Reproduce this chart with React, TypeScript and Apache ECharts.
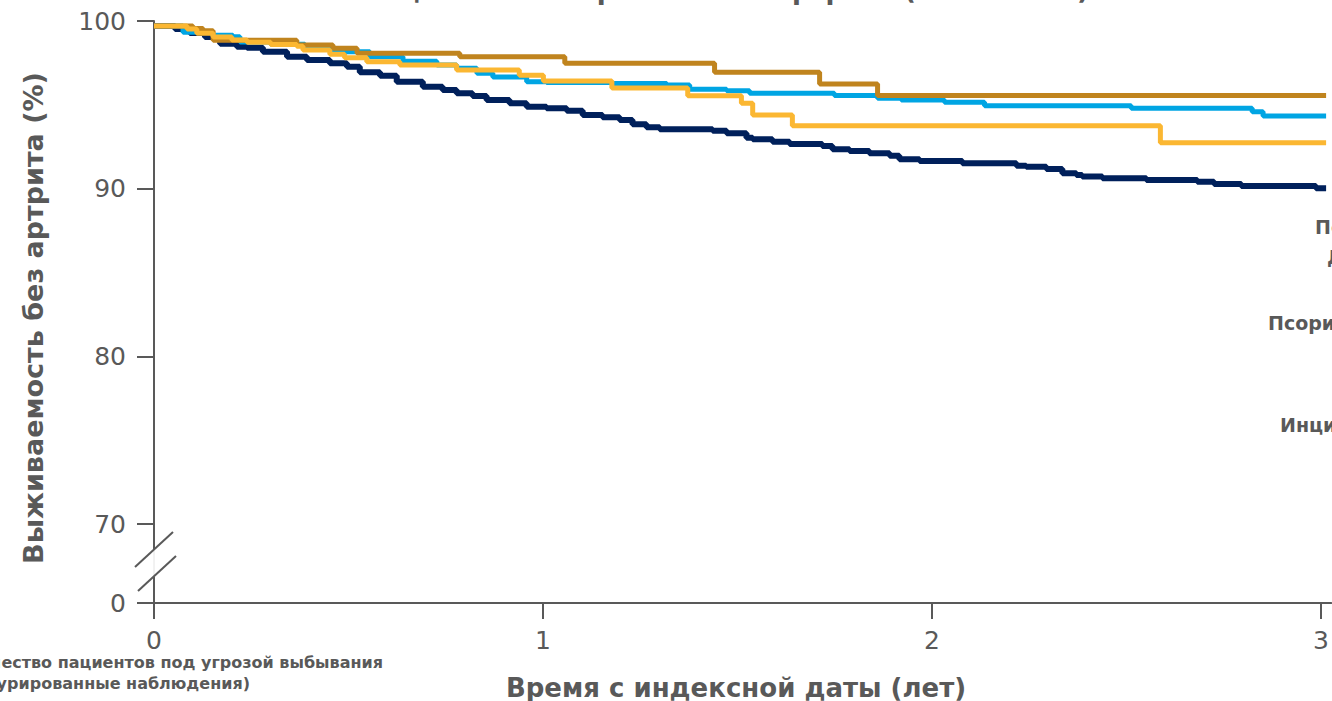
import React, { useEffect, useRef } from "react";
import * as echarts from "echarts";

// ---- data (years since index date, % arthritis-free survival) ----
const navyData: [number, number][] = [
  [0, 99.7], [0.054, 99.52], [0.092, 99.28], [0.131, 99.05], [0.17, 98.65], [0.213, 98.47],
  [0.239, 98.4], [0.28, 98.17], [0.342, 97.87], [0.393, 97.67], [0.452, 97.48], [0.496, 97.27],
  [0.529, 96.94], [0.581, 96.74], [0.624, 96.38], [0.691, 96.08], [0.742, 95.89], [0.778, 95.69],
  [0.819, 95.53], [0.855, 95.29], [0.914, 95.09], [0.958, 94.89], [1.009, 94.79], [1.061, 94.65],
  [1.102, 94.39], [1.153, 94.26], [1.197, 94.1], [1.23, 93.84], [1.266, 93.66], [1.3, 93.54],
  [1.436, 93.46], [1.472, 93.3], [1.523, 93.04], [1.539, 92.95], [1.59, 92.8], [1.634, 92.67],
  [1.718, 92.55], [1.744, 92.35], [1.788, 92.25], [1.839, 92.11], [1.891, 91.97], [1.916, 91.75],
  [1.968, 91.65], [2.078, 91.51], [2.217, 91.37], [2.242, 91.31], [2.294, 91.17], [2.335, 90.92],
  [2.371, 90.82], [2.386, 90.72], [2.438, 90.62], [2.551, 90.52], [2.682, 90.42], [2.725, 90.28],
  [2.795, 90.16], [2.987, 90.02], [3.013, 90.02],
];

const blueData: [number, number][] = [
  [0, 99.7], [0.0745, 99.33], [0.15, 99.15], [0.203, 99.06], [0.221, 98.75], [0.3, 98.62],
  [0.388, 98.47], [0.457, 98.17], [0.555, 97.87], [0.64, 97.6], [0.727, 97.38], [0.778, 97.18],
  [0.83, 96.88], [0.871, 96.66], [0.958, 96.38], [1.009, 96.33], [1.179, 96.28], [1.318, 96.18],
  [1.377, 95.93], [1.472, 95.84], [1.531, 95.69], [1.749, 95.55], [1.86, 95.39], [1.921, 95.29],
  [2.032, 95.15], [2.135, 94.95], [2.512, 94.79], [2.823, 94.59], [2.851, 94.34], [3.013, 94.34],
];

const brownData: [number, number][] = [
  [0, 99.7], [0.1, 99.56], [0.126, 99.42], [0.152, 98.85], [0.367, 98.57], [0.46, 98.37],
  [0.522, 98.08], [0.786, 97.87], [1.056, 97.48], [1.441, 96.94], [1.711, 96.24], [1.86, 95.55],
  [3.013, 95.55],
];

const goldData: [number, number][] = [
  [0, 99.7], [0.085, 99.52], [0.11, 99.27], [0.152, 99.05], [0.2, 98.87], [0.239, 98.73],
  [0.3, 98.6], [0.367, 98.5], [0.383, 98.27], [0.452, 98.01], [0.49, 97.81], [0.547, 97.57],
  [0.632, 97.38], [0.778, 97.08], [0.939, 96.76], [1.001, 96.42], [1.177, 96.0], [1.372, 95.54],
  [1.51, 95.09], [1.539, 94.39], [1.641, 93.75], [2.587, 92.74], [3.013, 92.74],
];

const xTicks = [0, 1, 2, 3];
const yBreakMin = 65.29; // value shown as "0" below the axis break
const yTicks = [yBreakMin, 70, 80, 90, 100];

const titleText = "Пациенты с псориазом без артрита (N = 12 345)";
const xTitle = "Время с индексной даты (лет)";
const yTitle = "Выживаемость без артрита (%)";
const riskLine1 = "Количество пациентов под угрозой выбывания";
const riskLine2 = "(цензурированные наблюдения)";
const sideLabels = ["ПсО", "Д", "Псориаз", "Инцидентный"];

const GRAY = "#595959";
const FONT = "'DejaVu Sans', Verdana, sans-serif";

export default function App() {
  const ref = useRef<HTMLDivElement>(null);
  useEffect(() => {
    if (!ref.current) return;
    const chart = echarts.init(ref.current, null, { renderer: "svg" });
    const mk = (name: string, data: [number, number][], color: string, w: number) => ({
      name,
      type: "line",
      step: "end",
      data,
      showSymbol: false,
      symbol: "none",
      lineStyle: { color, width: w },
      itemStyle: { color },
    });
    const label = (text: string, x: number, y: number, size: number, align: string, extra: any = {}) => ({
      type: "text",
      x,
      y,
      ...extra,
      style: { text, font: `bold ${size}px ${FONT}`, fill: GRAY, align, verticalAlign: extra.va || "middle" },
    });
    chart.setOption({
      animation: false,
      textStyle: { fontFamily: FONT },
      grid: { left: 154, top: 21, right: 0, bottom: 98 },
      xAxis: {
        type: "value",
        min: 0,
        max: 3.026,
        splitLine: { show: false },
        axisLine: { show: true, lineStyle: { color: GRAY, width: 2 } },
        axisTick: { show: true, customValues: xTicks, length: 16, lineStyle: { color: GRAY, width: 2 } },
        axisLabel: { customValues: xTicks, fontSize: 25, color: GRAY, margin: 25, fontFamily: FONT },
      },
      yAxis: {
        type: "value",
        min: yBreakMin,
        max: 100,
        splitLine: { show: false },
        axisLine: { show: true, lineStyle: { color: GRAY, width: 2 } },
        axisTick: { show: true, customValues: yTicks, length: 17, lineStyle: { color: GRAY, width: 2 } },
        axisLabel: {
          customValues: yTicks,
          fontSize: 25,
          color: GRAY,
          margin: 28,
          fontFamily: FONT,
          formatter: (v: number) => (v < 66 ? "0" : String(Math.round(v))),
        },
      },
      series: [
        mk("Инцидентный", navyData, "#00205B", 6),
        mk("Псориаз", blueData, "#00A5E3", 5),
        mk("ПсО", brownData, "#C0841E", 5),
        mk("Д", goldData, "#FBB732", 5),
      ],
      graphic: [
        label(titleText, 725, 3, 26, "center", { va: "bottom" }),
        label(xTitle, 736, 688, 26, "center"),
        label(yTitle, 33, 318, 27, "center", { rotation: Math.PI / 2 }),
        label(riskLine1, 383, 662, 16, "right"),
        label(riskLine2, 250, 683, 16, "right"),
        label(sideLabels[0], 1315, 227, 19, "left"),
        label(sideLabels[1], 1327, 257, 19, "left"),
        label(sideLabels[2], 1268, 323, 19, "left"),
        label(sideLabels[3], 1280, 425, 19, "left"),
        // axis break
        { type: "rect", z: 100, shape: { x: 149, y: 549, width: 10, height: 28 }, style: { fill: "#ffffff" } },
        { type: "line", z: 101, shape: { x1: 154, y1: 549, x2: 154, y2: 577 }, style: { stroke: "#e4e4e4", lineWidth: 1 } },
        { type: "line", z: 102, shape: { x1: 135, y1: 567, x2: 173, y2: 532 }, style: { stroke: GRAY, lineWidth: 2 } },
        { type: "line", z: 102, shape: { x1: 138, y1: 591, x2: 176, y2: 556 }, style: { stroke: GRAY, lineWidth: 2 } },
      ],
    });
    return () => chart.dispose();
  }, []);
  return <div ref={ref} style={{ position: "absolute", left: 0, top: 0, width: 1332, height: 701 }} />;
}
